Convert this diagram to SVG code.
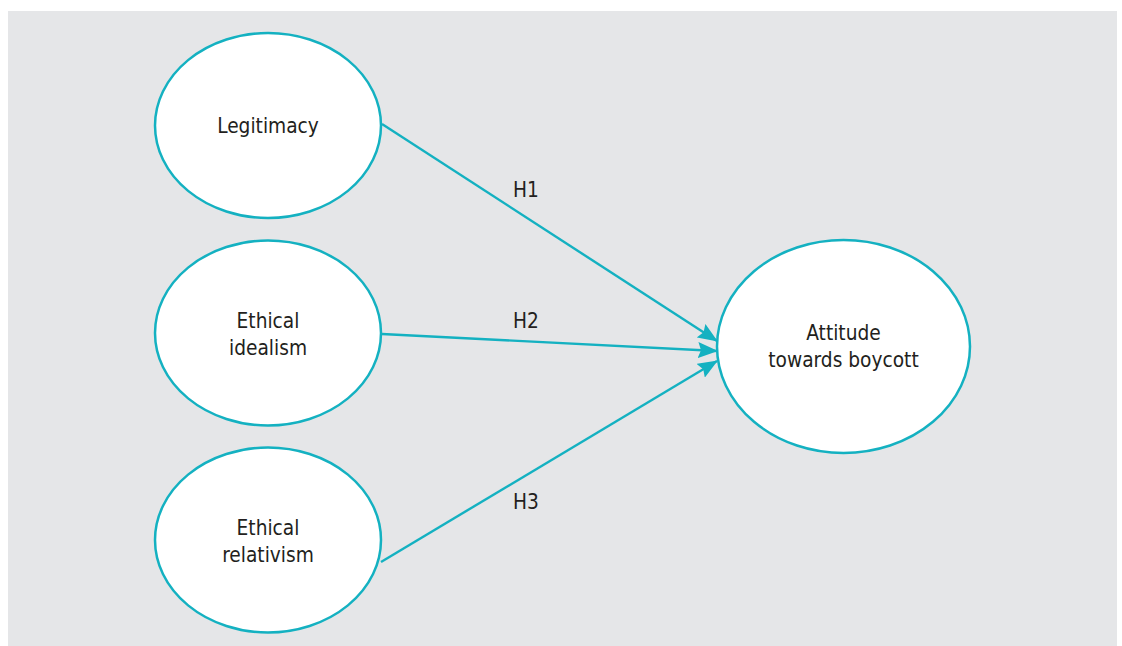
<svg xmlns="http://www.w3.org/2000/svg" width="1122" height="646" viewBox="0 0 1122 646">
<style>
.n{fill:#fff;stroke:#14b1c1;stroke-width:2.5}
.t{font-family:"DejaVu Sans Condensed","DejaVu Sans",sans-serif;font-size:20.7px;fill:#231f20;text-anchor:middle}
.l{font-family:"DejaVu Sans Condensed","DejaVu Sans",sans-serif;font-size:20.7px;fill:#231f20}
.c{stroke:#14b1c1;stroke-width:2.4;fill:none}
</style>
<defs>
<marker id="a" markerWidth="20" markerHeight="16" refX="19" refY="8" orient="auto" markerUnits="userSpaceOnUse">
<path d="M0,0 L20,8 L0,16 L3,8 Z" fill="#14b1c1"/>
</marker>
</defs>
<rect x="8" y="11" width="1109" height="635" fill="#e5e6e8"/>
<g id="connectors">
<line class="c" x1="382" y1="124" x2="717" y2="341" marker-end="url(#a)"/>
<line class="c" x1="382" y1="334" x2="717" y2="351" marker-end="url(#a)"/>
<line class="c" x1="381" y1="562" x2="717" y2="361" marker-end="url(#a)"/>
<text class="l" x="513" y="197">H1</text>
<text class="l" x="513" y="328">H2</text>
<text class="l" x="513" y="509">H3</text>
</g>
<g id="legitimacy">
<ellipse class="n" cx="268" cy="125.5" rx="113" ry="92.5"/>
<text class="t" x="268" y="133">Legitimacy</text>
</g>
<g id="idealism">
<ellipse class="n" cx="268" cy="333" rx="113" ry="92.5"/>
<text class="t" x="268" y="328">Ethical</text>
<text class="t" x="268" y="355">idealism</text>
</g>
<g id="relativism">
<ellipse class="n" cx="268" cy="540" rx="113" ry="92.5"/>
<text class="t" x="268" y="535">Ethical</text>
<text class="t" x="268" y="562">relativism</text>
</g>
<g id="attitude">
<ellipse class="n" cx="843.5" cy="346.5" rx="126.5" ry="106.5"/>
<text class="t" x="843.5" y="340">Attitude</text>
<text class="t" x="843.5" y="367">towards boycott</text>
</g>
</svg>
